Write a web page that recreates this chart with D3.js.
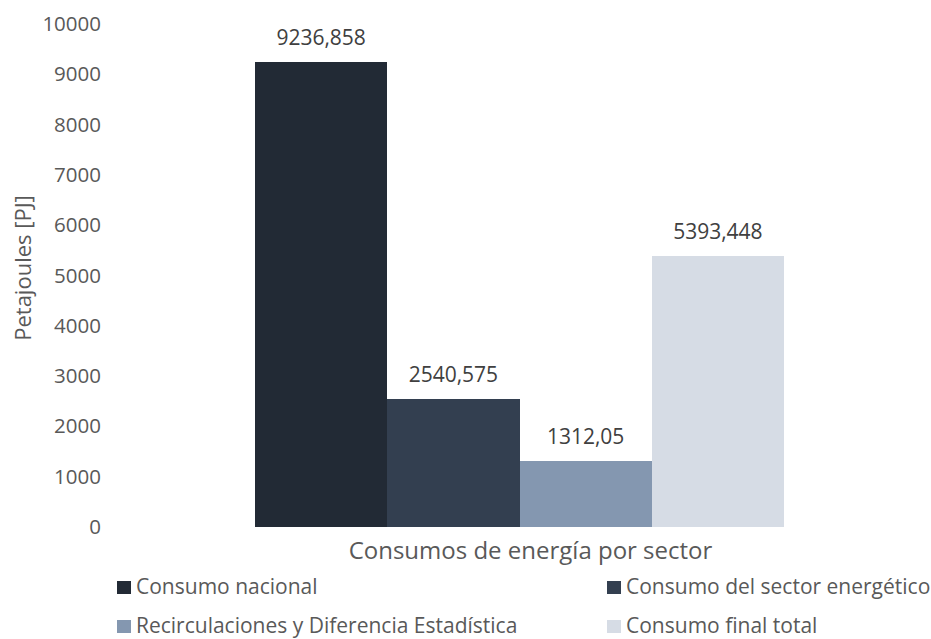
<!DOCTYPE html>
<html>
<head>
<meta charset="utf-8">
<script src="https://cdn.jsdelivr.net/npm/d3@7"></script>
<style>
  body { margin: 0; background: #fff; }
  svg text { font-family: "Open Sans", "Noto Sans", sans-serif; }
</style>
</head>
<body>
<svg id="chart" width="931" height="639"></svg>
<script>
// Energy consumption by sector, in petajoules
const series = ["Consumo nacional", "Consumo del sector energético", "Recirculaciones y Diferencia Estadística", "Consumo final total"];
const values = [9236.858, 2540.575, 1312.05, 5393.448];
const valueLabels = ["9236,858", "2540,575", "1312,05", "5393,448"];
const colors = ["#222a35", "#333f50", "#8497b0", "#d6dce5"];
const yTicks = [0, 1000, 2000, 3000, 4000, 5000, 6000, 7000, 8000, 9000, 10000];
const category = "Consumos de energía por sector";
const yTitle = "Petajoules [PJ]";

const svg = d3.select("#chart");

const y = d3.scaleLinear().domain([0, 10000]).range([527, 24]);
const x = d3.scaleBand().domain(series).range([255, 784]).padding(0);

// y axis: labels only, no line or tick marks
const yAxis = d3.axisLeft(y).tickValues(yTicks).tickSize(0).tickPadding(0).tickFormat(d3.format("d"));
const gy = svg.append("g").attr("transform", "translate(101,0)").call(yAxis);
gy.select(".domain").remove();
gy.selectAll("text")
  .attr("fill", "#595959")
  .style("font-size", "20.5px")
  .style("font-family", "'Open Sans', sans-serif");

// bars
svg.append("g").selectAll("rect")
  .data(values)
  .join("rect")
  .attr("x", (d, i) => x(series[i]))
  .attr("width", x.bandwidth())
  .attr("y", d => y(d))
  .attr("height", d => y(0) - y(d))
  .attr("fill", (d, i) => colors[i])
  .attr("shape-rendering", "crispEdges");

// value labels
svg.append("g").selectAll("text")
  .data(values)
  .join("text")
  .attr("x", (d, i) => x(series[i]) + x.bandwidth() / 2)
  .attr("y", d => y(d) - 17)
  .attr("text-anchor", "middle")
  .attr("fill", "#404040")
  .style("font-size", "21px")
  .text((d, i) => valueLabels[i]);

// category label under the group
svg.append("text")
  .attr("x", (x.range()[0] + x.range()[1]) / 2 + 11)
  .attr("y", 559)
  .attr("text-anchor", "middle")
  .attr("fill", "#595959")
  .style("font-size", "24px")
  .text(category);

// y axis title
svg.append("text")
  .attr("transform", "translate(31,268) rotate(-90)")
  .attr("text-anchor", "middle")
  .attr("fill", "#595959")
  .style("font-size", "22px")
  .text(yTitle);

// legend, two columns
const legendPos = [[117, 594], [607, 594], [117, 633], [607, 633]];
const lg = svg.append("g").selectAll("g")
  .data(series)
  .join("g")
  .attr("transform", (d, i) => `translate(${legendPos[i][0]},${legendPos[i][1]})`);
lg.append("rect")
  .attr("x", 0).attr("y", -13)
  .attr("width", 14).attr("height", 13)
  .attr("fill", (d, i) => colors[i]);
lg.append("text")
  .attr("x", 19).attr("y", 0)
  .attr("fill", "#595959")
  .style("font-size", "21px")
  .text(d => d);
</script>
</body>
</html>
